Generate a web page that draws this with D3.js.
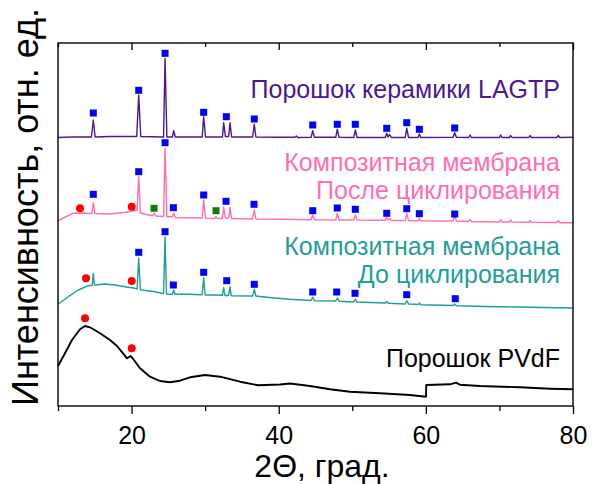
<!DOCTYPE html>
<html><head><meta charset="utf-8">
<script src="https://cdn.jsdelivr.net/npm/d3@7"></script>
<style>html,body{margin:0;padding:0;background:#fff;}svg{display:block;font-family:"Liberation Sans",Arial,sans-serif;}</style>
</head><body>
<script>
// ---- data: [2θ, intensity (arb. units)] ----
const lagtp = [[10,268.5],[12,269],[14.55,269],[14.8,286],[15.05,269],[17,269.5],[20.7,269.5],[20.97,311],[21.25,269.5],[24.35,269],[24.55,347.7],[24.8,269],[25.55,269],[25.73,275.3],[25.95,269],[29.6,269],[29.8,289.3],[30.05,269],[32.35,269],[32.52,283.3],[32.75,269.5],[33.2,269.5],[33.38,283.3],[33.6,269],[36.45,269],[36.68,281.7],[36.9,269],[40,268.7],[42.2,268.7],[42.4,270],[42.6,268.5],[44.4,268.7],[44.62,275.3],[44.85,268.7],[47.75,268.7],[47.96,276.7],[48.2,268.7],[50.2,268.5],[50.41,276],[50.65,268.5],[52,268.5],[54.5,268.5],[54.68,272.7],[54.85,269],[55.1,271.5],[55.3,268.5],[57.2,268.5],[57.4,277.7],[57.65,268.5],[58.95,268.5],[59.11,272],[59.3,268.5],[63.7,268.7],[63.92,273.3],[64.15,268.7],[65.8,268.5],[66,271],[66.2,268.5],[70,268.5],[70.17,271],[70.35,268.5],[71.35,268.5],[71.53,270.5],[71.7,268.5],[74,268.5],[74.16,270.5],[74.35,268.5],[77.8,268.5],[78,270.5],[78.2,268.5],[80,268.7]];
const pink = [[10,185.3],[11,189],[12,192.7],[13.5,193],[14.6,192.5],[14.8,203],[15,192.5],[17,192],[19,193.5],[20.3,195.3],[20.75,196],[20.97,229.3],[21.2,193],[22,191.5],[22.9,190.3],[23.09,193],[23.3,190],[24.35,189.5],[24.55,257.7],[24.8,189.5],[25.55,189],[25.73,192.7],[25.95,188.5],[29.6,188],[29.8,206],[30.05,187.7],[31.3,187.5],[31.48,189.5],[31.65,187.5],[32.35,187.5],[32.52,198.7],[32.75,188],[33.2,188],[33.38,198.7],[33.6,187.5],[36.45,187],[36.68,196],[36.9,187],[40,186.7],[44.4,186.3],[44.62,191],[44.85,186.3],[47.75,186],[47.96,192.7],[48.2,186],[50.2,186],[50.41,191],[50.65,186],[54.5,185.7],[54.68,188.7],[54.85,186],[55.1,187.5],[55.3,185.5],[57.2,185.5],[57.4,192.7],[57.65,185.5],[58.95,185.3],[59.11,187.7],[59.3,185.3],[63.7,185],[63.92,190],[64.15,185],[65.8,184.5],[66,186.5],[66.2,184.5],[70,184],[70.17,186.5],[70.35,184],[71.35,184],[71.53,186],[71.7,184],[74,183.7],[74.16,185.7],[74.35,183.7],[77.8,183.5],[78,185.5],[78.2,183.3],[80,183.3]];
const teal = [[10,101.7],[11.4,109.3],[12.76,116],[14.12,120.3],[14.65,120.8],[14.8,132.7],[14.95,121],[16.39,122],[17.75,121],[19.1,119.3],[20.47,117.7],[20.75,117],[20.97,147.7],[21.2,116.3],[21.38,116],[23.18,114.3],[24.1,112.7],[24.35,112.5],[24.55,169],[24.75,112],[25,111.7],[25.55,111.7],[25.73,116],[25.9,111.7],[27.7,111.7],[29.6,111.3],[29.8,128.3],[30,111],[31.34,111],[32.35,110.7],[32.52,118.3],[32.7,110.5],[33.2,110.5],[33.38,119.3],[33.55,110.3],[36.45,110],[36.68,116.7],[36.9,110],[39,108.3],[41.5,106.7],[44.4,105.5],[44.62,108.7],[44.85,105.3],[47.75,105],[47.96,108],[48.2,104.8],[50.2,104],[50.41,106.7],[50.65,104],[54.5,103],[54.68,104.5],[54.9,102.7],[57.2,102],[57.4,105.3],[57.65,102],[59,101.5],[59.11,103],[59.3,101.3],[63.7,100.5],[63.92,102],[64.15,100.3],[68,99.5],[72,99],[76,98.5],[80,98]];
const pvdf = [[10,40],[10.95,52.7],[11.9,66],[12.99,76.7],[13.67,80],[14.35,78.7],[15.71,72.7],[17.07,66],[18.02,60],[18.84,52.7],[19.38,47.7],[19.88,50],[20.19,47.3],[21.15,37.7],[22.5,29.3],[23.86,25],[25.22,23.7],[26.58,25.3],[27.94,28.7],[29.98,31],[32.02,29.3],[34.74,24.3],[37.18,20.7],[40.18,21.5],[41.53,22.5],[44.25,20],[46.97,16.7],[49.69,14.3],[53.77,12.7],[57.85,11],[60.02,9.3],[60.05,21],[63.28,21.7],[64.1,23.3],[64.6,21.3],[67.36,20],[72.8,18.7],[76.88,17.3],[80,16.7]];

// markers
const blueLagtp = [[14.8,293],[20.97,315.7],[24.55,352.7],[29.8,293.7],[32.88,289.3],[36.68,287],[44.62,281],[47.96,281.7],[50.41,281.7],[54.68,277.7],[57.4,283.3],[59.11,276.7],[63.92,278]];
const bluePink = [[14.8,211.7],[20.97,234.3],[24.55,263.3],[25.68,198.3],[29.8,211],[32.84,204.7],[36.64,201.7],[44.62,195.3],[47.96,198],[50.41,196.7],[54.68,192.7],[57.4,197.3],[59.11,192.3],[63.92,192]];
const redPink = [[12.99,197.7],[20.02,199.3]];
const greenPink = [[23.05,197.7],[31.48,195.3]];
const blueTeal = [[20.97,153.7],[24.55,174.3],[25.68,121],[29.8,133.7],[32.93,125.3],[36.68,121.7],[44.62,114],[47.88,114],[50.37,112.7],[57.4,111.3],[64,107.3]];
const redTeal = [[13.81,127.7],[20.02,125]];
const redPvdf = [[13.67,87.7],[20.02,57.7]];

const xTicks = [10,20,30,40,50,60,70,80];
const xLabeled = [20,40,60,80];
const labelLagtp = ["Порошок керамики LAGTP"];
const labelPink = ["Композитная мембрана","После циклирования"];
const labelTeal = ["Композитная мембрана","До циклирования"];
const labelPvdf = ["Порошок PVdF"];
const xTitle = "2Θ, град.";
const yTitle = "Интенсивность, отн. ед.";

// ---- drawing ----
const W = 592, H = 484;
const m = {l:58, r:573, t:43, b:406};
const svg = d3.select("body").append("svg").attr("width",W).attr("height",H);
const x = d3.scaleLinear().domain([10,80]).range([m.l,m.r]);
const y = d3.scaleLinear().domain([0,363]).range([m.b,m.t]);
const line = d3.line().x(d=>x(d[0])).y(d=>y(d[1]));

const cPurple="#4d1892", cPink="#ff6eb4", cTeal="#1f9e9a", cBlack="#000";
[[lagtp,cPurple,1.4],[pink,cPink,1.4],[teal,cTeal,1.4],[pvdf,cBlack,1.9]].forEach(([d,c,w])=>{
  svg.append("path").datum(d).attr("d",line).attr("fill","none").attr("stroke",c).attr("stroke-width",w).attr("stroke-linejoin","round");
});

function squares(d,c){svg.append("g").selectAll("rect").data(d).join("rect")
  .attr("x",p=>x(p[0])-3.5).attr("y",p=>y(p[1])-3.5).attr("width",7).attr("height",7).attr("fill",c);}
function circles(d,c){svg.append("g").selectAll("circle").data(d).join("circle")
  .attr("cx",p=>x(p[0])).attr("cy",p=>y(p[1])).attr("r",4).attr("fill",c);}
squares(blueLagtp,"#0000ff"); squares(bluePink,"#0000ff"); squares(blueTeal,"#0000ff");
squares(greenPink,"#0a800a");
circles(redPink,"#ff0000"); circles(redTeal,"#ff0000"); circles(redPvdf,"#ff0000");

// axes
const gB = svg.append("g").attr("transform",`translate(0,${m.b})`)
  .call(d3.axisBottom(x).tickValues(xTicks).tickSize(7).tickSizeOuter(0).tickFormat(v=>xLabeled.includes(v)?v:""));
gB.selectAll(".tick line").attr("y2",v=>xLabeled.includes(v)?8:5);
gB.selectAll("text").attr("font-size",25).attr("font-family","Liberation Sans, Arial, sans-serif").attr("fill","#000").attr("dy","0.71em").attr("y",20);
const gT = svg.append("g").attr("transform",`translate(0,${m.t})`)
  .call(d3.axisBottom(x).tickValues(xTicks).tickSize(6).tickSizeOuter(0).tickFormat(""));
gT.selectAll(".tick line").attr("y2",v=>xLabeled.includes(v)?7:4);
svg.selectAll(".domain").remove();
svg.append("rect").attr("x",m.l).attr("y",m.t).attr("width",m.r-m.l).attr("height",m.b-m.t)
  .attr("fill","none").attr("stroke","#000").attr("stroke-width",1.4);
svg.selectAll(".tick line").attr("stroke","#000").attr("stroke-width",1.3);

// titles
svg.append("text").attr("x",322).attr("y",477).attr("text-anchor","middle")
  .attr("font-size",32).text(xTitle);
svg.append("text").attr("transform",`translate(38,${207}) rotate(-90)`).attr("text-anchor","middle")
  .attr("font-size",36).text(yTitle);

// series labels (multi-line labels as one text with tspans)
function label(lines,c,y0,dy){
  const t = svg.append("text").attr("text-anchor","end").attr("font-size",25).attr("fill",c);
  lines.forEach((s,i)=>t.append("tspan").attr("x",560).attr("y",y0+i*dy).text(s));
}
label(labelLagtp,cPurple,98,0);
label(labelPink,cPink,171,28);
label(labelTeal,cTeal,255,28);
label(labelPvdf,cBlack,367,0);
</script>
</body></html>
